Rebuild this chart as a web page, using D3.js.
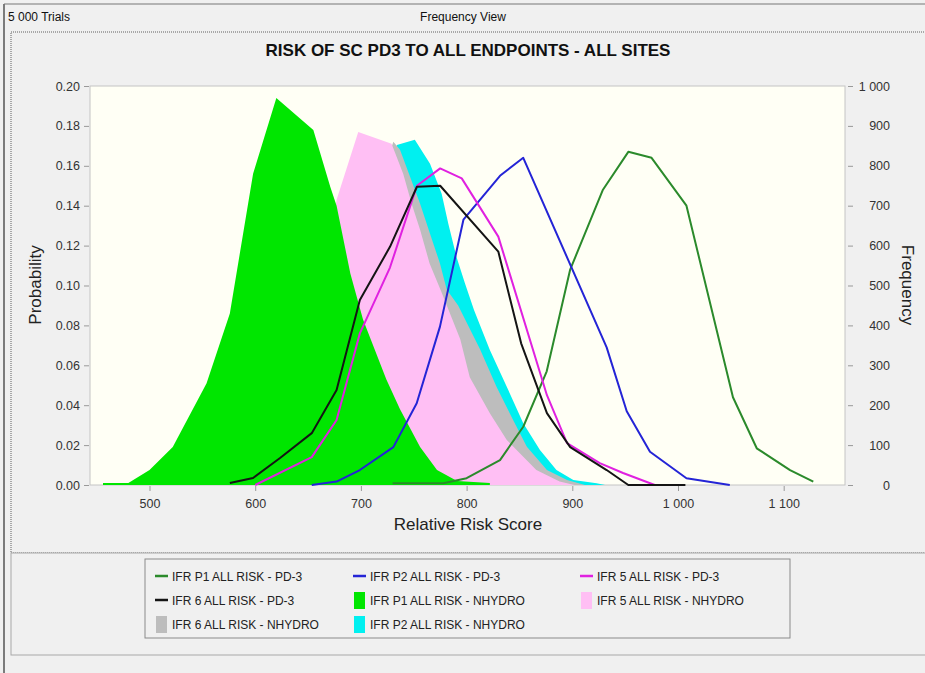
<!DOCTYPE html>
<html><head><meta charset="utf-8">
<script src="https://cdn.jsdelivr.net/npm/d3@7"></script>
<style>
body{margin:0;background:#f0f0f0;}
svg{display:block;font-family:Arial,"Liberation Sans",sans-serif;}
</style>
</head><body>
<svg id="c" width="925" height="673"></svg>
<script>
// ---- data ----
const xTicks = [500, 600, 700, 800, 900, 1000, 1100];
const probTicks = [0, 0.02, 0.04, 0.06, 0.08, 0.10, 0.12, 0.14, 0.16, 0.18, 0.20];
const freqTicks = [0, 100, 200, 300, 400, 500, 600, 700, 800, 900, 1000];
const trials = 5000;

// line series: [relative risk score, probability]
const p1Pd3 = [[730,0.0009],[778,0.0009],[800,0.0034],[831.6,0.0125],[853.6,0.0292],[875.8,0.057],[898,0.108],[929,0.148],[953,0.167],[975,0.164],[1008,0.14],[1052,0.044],[1074.5,0.0184],[1106,0.0075],[1128,0.0017]];
const p2Pd3 = [[653.5,0],[677,0.0017],[699,0.0075],[730.7,0.019],[752.8,0.041],[774.8,0.0794],[797,0.133],[831.6,0.155],[853.6,0.164],[932.5,0.069],[951.5,0.037],[973.5,0.0167],[1008,0.0034],[1049,0]];
const r5Pd3 = [[600,0],[653.5,0.014],[677,0.0326],[699,0.076],[727.5,0.109],[753,0.150],[775,0.1587],[795.4,0.1537],[830,0.1245],[876,0.045],[895,0.021],[926,0.011],[948,0.006],[973,0.001],[978,0]];
const r6Pd3 = [[576,0.001],[598,0.0035],[623.5,0.0135],[653.5,0.026],[677,0.0476],[699,0.0927],[727.5,0.1194],[753,0.1495],[775,0.15],[830,0.117],[851.6,0.071],[876,0.036],[898,0.019],[932.5,0.0075],[953,0],[1007,0]];

// area series
const p1Nhydro = [[456,0.001],[480,0.001],[500,0.0075],[522,0.019],[554,0.051],[576,0.086],[598,0.156],[620,0.194],[655,0.178],[671,0.1495],[677,0.14],[690,0.106],[702,0.083],[724,0.053],[737,0.038],[756,0.019],[772,0.0075],[791,0.002],[822,0.001]];
const r5Nhydro = [[610,0],[650,0.05],[670,0.12],[677,0.143],[697.5,0.177],[729,0.171],[740,0.156],[748,0.141],[756,0.128],[765,0.111],[776,0.097],[794,0.073],[803,0.054],[822,0.036],[838,0.0226],[853.6,0.0142],[866,0.0075],[888,0.0017],[902,0]];
const r6Nhydro = [[630,0],[690,0.08],[720,0.155],[730.7,0.172],[737,0.168],[746.5,0.1545],[756,0.141],[765.4,0.126],[774.8,0.111],[781.2,0.098],[792,0.09],[812.7,0.068],[828.5,0.049],[844,0.0326],[857,0.0192],[876,0.0075],[895,0.0025],[912,0]];
const p2Nhydro = [[640,0],[700,0.08],[725,0.15],[734,0.1704],[751,0.173],[765.4,0.161],[776.4,0.146],[782.7,0.131],[790.6,0.114],[798.5,0.101],[807,0.0877],[822,0.0677],[838,0.0493],[853.6,0.0309],[869.4,0.0175],[885,0.0075],[901,0.0025],[923,0.0009],[931,0]];

const legendNames = [
  "IFR P1 ALL RISK - PD-3","IFR P2 ALL RISK - PD-3","IFR 5 ALL RISK - PD-3",
  "IFR 6 ALL RISK - PD-3","IFR P1 ALL RISK - NHYDRO","IFR 5 ALL RISK - NHYDRO",
  "IFR 6 ALL RISK - NHYDRO","IFR P2 ALL RISK - NHYDRO"
];
const legendKinds = ["line","line","line","line","box","box","box","box"];
const legendColors = ["#2b8a2b","#2424d6","#e021e0","#141414","#00e600","#ffbff4","#bdbdbd","#00f0f0"];

// ---- layout ----
const svg = d3.select("#c");
const L = 90, R = 845, T = 86, B = 485;
const x = d3.scaleLinear().domain([443.7, 1158]).range([L, R]);
const y = d3.scaleLinear().domain([0, 0.2]).range([B, T]);
const yF = d3.scaleLinear().domain([0, 1000]).range([B, T]);
const loc = d3.formatLocale({decimal:".", thousands:" ", grouping:[3], currency:["",""]});
const fmtK = loc.format(",");

// frame
svg.append("line").attr("x1",4).attr("x2",4).attr("y1",4).attr("y2",673).attr("stroke","#555").attr("stroke-width",1.5);
svg.append("line").attr("x1",4).attr("x2",925).attr("y1",4).attr("y2",4).attr("stroke","#777").attr("stroke-width",1);
svg.append("text").attr("x",8).attr("y",21).attr("font-size",12).attr("fill","#111").text(`${fmtK(trials)} Trials`);
svg.append("text").attr("x",463).attr("y",21).attr("text-anchor","middle").attr("font-size",12).attr("fill","#111").text("Frequency View");

// panels
svg.append("rect").attr("x",11).attr("y",32).attr("width",930).attr("height",521)
  .attr("fill","#f0f0f0").attr("stroke","#a8a8a8").attr("stroke-width",2).attr("stroke-dasharray","1,1");
svg.append("rect").attr("x",11).attr("y",553).attr("width",930).attr("height",102)
  .attr("fill","#f0f0f0").attr("stroke","#a8a8a8").attr("stroke-width",1);

// title
svg.append("text").attr("x",468).attr("y",56).attr("text-anchor","middle")
  .attr("font-size",17).attr("font-weight","bold").attr("fill","#111")
  .text("RISK OF SC PD3 TO ALL ENDPOINTS - ALL SITES");

// plot bg
svg.append("rect").attr("x",L).attr("y",T).attr("width",R-L).attr("height",B-T)
  .attr("fill","#fffff5").attr("stroke","#c4c4c4");

const area = d3.area().x(d=>x(d[0])).y0(y(0)).y1(d=>y(d[1]));
const line = d3.line().x(d=>x(d[0])).y(d=>y(d[1]));

const g = svg.append("g");
[[p2Nhydro,"#00f0f0"],[r6Nhydro,"#bdbdbd"],[r5Nhydro,"#ffbff4"],[p1Nhydro,"#00e600"]].forEach(([d,c])=>{
  g.append("path").datum(d).attr("d",area).attr("fill",c);
});
[[p1Pd3,"#2b8a2b"],[p2Pd3,"#2424d6"],[r5Pd3,"#e021e0"],[r6Pd3,"#141414"]].forEach(([d,c])=>{
  g.append("path").datum(d).attr("d",line).attr("fill","none").attr("stroke",c).attr("stroke-width",2).attr("stroke-linejoin","round");
});

// axes
const axL = svg.append("g").attr("transform",`translate(${L-1},0)`)
  .call(d3.axisLeft(y).tickValues(probTicks).tickFormat(d3.format(".2f")).tickSize(5).tickPadding(4));
const axR = svg.append("g").attr("transform",`translate(${R+3},0)`)
  .call(d3.axisRight(yF).tickValues(freqTicks).tickFormat(fmtK).tickSize(5).tickPadding(3));
const axB = svg.append("g").attr("transform",`translate(0,${B+1})`)
  .call(d3.axisBottom(x).tickValues(xTicks).tickFormat(fmtK).tickSize(5).tickPadding(8));
[axL,axR,axB].forEach(a=>{
  a.select(".domain").remove();
  a.selectAll(".tick line").attr("stroke","#999");
  a.selectAll("text").attr("font-size",12.5).attr("fill","#333").attr("font-family","Arial, 'Liberation Sans', sans-serif");
});
axR.selectAll("text").attr("text-anchor","end").attr("x",42);

svg.append("text").attr("transform","translate(41,285) rotate(-90)").attr("text-anchor","middle")
  .attr("font-size",17).attr("fill","#222").text("Probability");
svg.append("text").attr("transform","translate(902,285) rotate(90)").attr("text-anchor","middle")
  .attr("font-size",17).attr("fill","#222").text("Frequency");
svg.append("text").attr("x",468).attr("y",530).attr("text-anchor","middle")
  .attr("font-size",17).attr("fill","#222").text("Relative Risk Score");

// legend
svg.append("rect").attr("x",145).attr("y",559).attr("width",645).attr("height",79)
  .attr("fill","#f0f0f0").attr("stroke","#8a8a8a");
const colX = [155, 353, 580];
legendNames.forEach((n,i)=>{
  const cx = colX[i%3], cy = 576 + Math.floor(i/3)*24;
  if(legendKinds[i]==="line"){
    svg.append("line").attr("x1",cx).attr("x2",cx+13).attr("y1",cy).attr("y2",cy).attr("stroke",legendColors[i]).attr("stroke-width",2.5);
  } else {
    svg.append("rect").attr("x",cx+1).attr("y",cy-8).attr("width",11).attr("height",17).attr("fill",legendColors[i]);
  }
  svg.append("text").attr("x",cx+17).attr("y",cy+4.5).attr("font-size",12).attr("fill","#222").text(n);
});
</script>
</body></html>
